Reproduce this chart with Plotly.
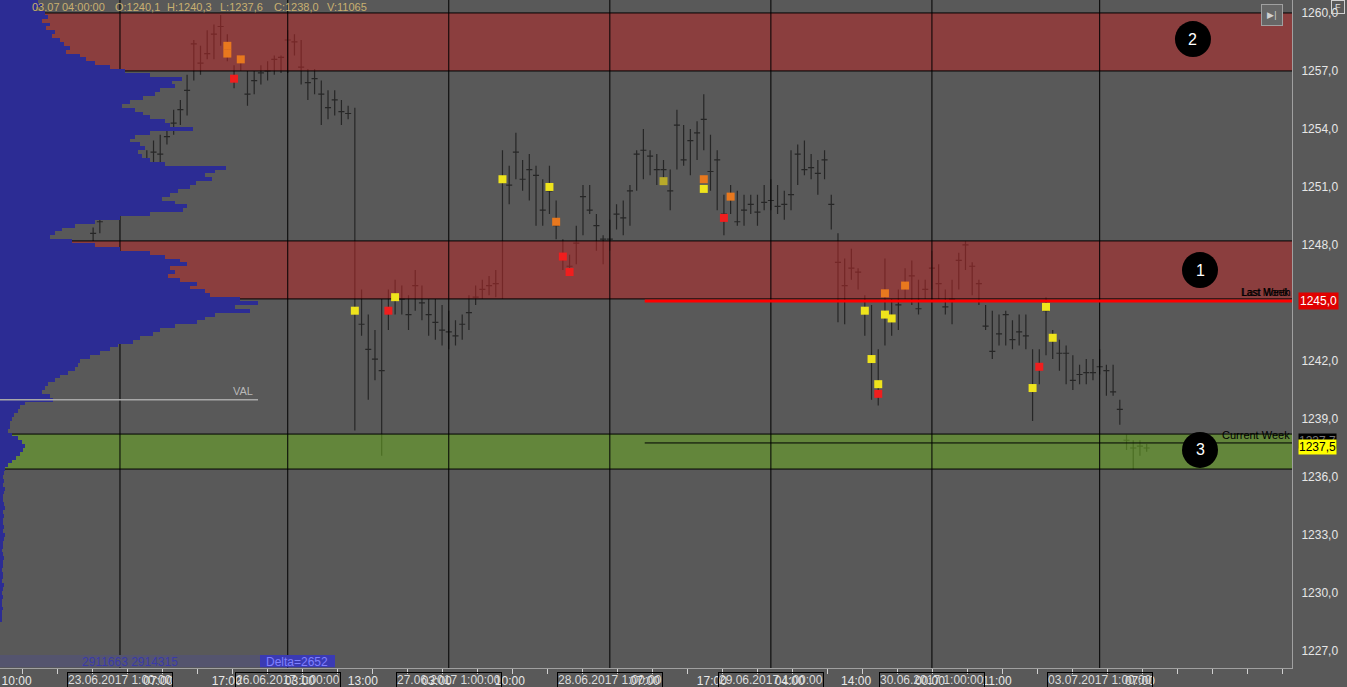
import plotly.graph_objects as go

# ---------------- data ----------------
# hourly bars (index 0 = 23.06.2017 1:00)
bar_idx = list(range(-4, 154))
bar_high = [
    1248.9, 1249.6, 1250.4, 1251.0, 1251.5, 1251.6, 1252.0, 1252.4, 1252.9, 1253.4,
    1253.7, 1254.2, 1255.0, 1255.5, 1256.8, 1258.6, 1258.3, 1259.1, 1259.4, 1259.9,
    1258.9, 1257.3, 1257.8, 1257.0, 1257.0, 1257.3, 1257.5, 1257.8, 1257.8, 1259.1,
    1258.9, 1258.6, 1257.1, 1257.1, 1256.5, 1256.0, 1256.0, 1255.5, 1255.2, 1255.1,
    1245.7, 1244.4, 1243.6, 1245.2, 1245.7, 1246.2, 1245.9, 1245.4, 1246.7, 1245.9,
    1245.2, 1245.2, 1244.9, 1244.6, 1244.1, 1244.4, 1245.4, 1245.9, 1246.2, 1246.4,
    1246.7, 1252.9, 1252.1, 1253.8, 1252.4, 1252.7, 1252.1, 1251.4, 1252.1, 1250.3,
    1248.3, 1247.5, 1249.0, 1251.1, 1251.1, 1249.6, 1248.5, 1249.3, 1250.1, 1250.3,
    1251.1, 1252.9, 1254.0, 1252.9, 1252.7, 1252.4, 1251.9, 1255.0, 1254.2, 1254.0,
    1254.4, 1255.8, 1253.7, 1252.9, 1250.6, 1251.1, 1250.8, 1250.6, 1250.6, 1250.6,
    1251.1, 1251.4, 1251.1, 1250.8, 1252.9, 1253.2, 1253.4, 1252.7, 1252.4, 1252.9,
    1250.6, 1248.6, 1247.3, 1247.8, 1246.8, 1245.4, 1244.9, 1242.6, 1247.3, 1245.2,
    1245.7, 1246.8, 1247.2, 1246.2, 1246.2, 1247.7, 1247.0, 1245.7, 1246.2, 1247.6,
    1248.2, 1247.1, 1246.2, 1244.9, 1244.6, 1244.4, 1244.6, 1244.1, 1244.4, 1244.4,
    1242.6, 1242.6, 1245.3, 1243.6, 1243.1, 1242.8, 1242.3, 1241.8, 1242.1, 1242.1,
    1242.6, 1241.8, 1241.8, 1240.0, 1238.2, 1237.9, 1237.9, 1237.7,
]
bar_low = [
    1248.2, 1248.6, 1249.4, 1250.0, 1250.4, 1250.8, 1251.0, 1251.5, 1251.9, 1251.9,
    1252.1, 1253.2, 1253.7, 1254.2, 1254.7, 1256.5, 1256.8, 1257.6, 1257.6, 1258.3,
    1257.5, 1256.1, 1257.0, 1255.2, 1255.8, 1256.3, 1256.5, 1256.8, 1256.9, 1256.9,
    1257.8, 1256.3, 1255.5, 1255.8, 1254.2, 1254.5, 1254.7, 1254.2, 1254.5, 1238.4,
    1243.3, 1240.0, 1241.0, 1237.1, 1243.6, 1244.4, 1244.4, 1243.6, 1244.6, 1244.1,
    1243.3, 1243.1, 1242.8, 1242.6, 1242.8, 1243.1, 1243.6, 1244.9, 1245.2, 1245.4,
    1245.3, 1245.2, 1250.1, 1251.4, 1250.8, 1250.3, 1249.0, 1249.0, 1249.6, 1248.3,
    1246.7, 1246.4, 1247.0, 1248.5, 1249.6, 1247.7, 1247.0, 1247.7, 1248.8, 1248.5,
    1249.0, 1250.8, 1251.4, 1251.6, 1251.1, 1251.1, 1249.8, 1251.9, 1252.1, 1251.6,
    1252.4, 1252.9, 1250.8, 1249.8, 1248.5, 1249.6, 1249.0, 1249.0, 1249.6, 1249.0,
    1249.8, 1249.8, 1249.6, 1249.3, 1249.8, 1251.1, 1251.6, 1251.4, 1250.6, 1251.4,
    1248.8, 1244.0, 1243.9, 1246.2, 1245.7, 1243.3, 1240.0, 1239.7, 1242.8, 1243.3,
    1243.6, 1245.2, 1244.9, 1244.4, 1245.2, 1245.7, 1245.2, 1244.4, 1243.9, 1245.7,
    1246.7, 1245.4, 1244.9, 1243.6, 1242.1, 1242.8, 1242.8, 1242.6, 1242.8, 1242.6,
    1238.9, 1240.8, 1242.3, 1242.1, 1241.5, 1240.8, 1240.5, 1240.8, 1240.8, 1241.0,
    1241.3, 1240.2, 1240.2, 1238.7, 1237.4, 1236.4, 1237.1, 1237.3,
]
bar_poc = [
    1248.6, 1249.2, 1250.0, 1250.5, 1251.0, 1251.2, 1251.6, 1252.0, 1252.2, 1252.8,
    1252.7, 1253.6, 1254.3, 1255.0, 1256.0, 1258.4, 1257.4, 1257.9, 1258.9, 1259.3,
    1258.2, 1256.7, 1257.5, 1255.8, 1256.5, 1256.9, 1257.0, 1257.6, 1257.7, 1258.6,
    1258.5, 1257.2, 1256.4, 1256.6, 1255.8, 1255.1, 1255.5, 1254.9, 1254.8, 1244.6,
    1243.9, 1242.6, 1242.1, 1241.5, 1244.6, 1245.3, 1245.2, 1244.4, 1245.9, 1245.0,
    1244.4, 1244.0, 1243.6, 1243.5, 1243.3, 1243.9, 1244.5, 1245.3, 1245.7, 1245.9,
    1246.0, 1251.4, 1251.1, 1252.8, 1251.4, 1251.9, 1251.6, 1249.8, 1250.8, 1249.0,
    1247.5, 1246.9, 1248.1, 1250.5, 1249.8, 1249.0, 1248.3, 1248.3, 1249.6, 1249.4,
    1250.8, 1252.7, 1252.9, 1252.6, 1251.9, 1251.9, 1250.8, 1254.2, 1252.4, 1253.4,
    1253.8, 1254.5, 1251.8, 1252.4, 1249.6, 1250.4, 1249.2, 1249.8, 1250.1, 1249.7,
    1250.2, 1250.3, 1250.0, 1250.1, 1250.6, 1252.7, 1251.9, 1252.0, 1251.7, 1252.4,
    1250.1, 1247.1, 1245.9, 1246.8, 1246.6, 1244.7, 1242.1, 1240.4, 1244.4, 1244.2,
    1244.9, 1245.9, 1246.4, 1244.7, 1245.7, 1246.8, 1246.0, 1244.8, 1245.2, 1247.2,
    1248.0, 1246.9, 1246.0, 1243.8, 1242.5, 1243.4, 1244.4, 1243.1, 1243.5, 1243.3,
    1240.7, 1241.8, 1244.6, 1243.1, 1242.4, 1242.4, 1241.0, 1241.3, 1241.4, 1241.4,
    1241.7, 1241.5, 1240.4, 1239.5, 1237.9, 1237.5, 1237.6, 1237.5,
]

# imbalance highlights (bar index, price, intensity)
heat_idx = [16, 16, 17, 18, 35, 40, 41, 57, 64, 65, 66, 67, 81, 87, 87, 90, 91,
            111, 112, 113, 113, 114, 114, 115, 117, 136, 137, 138, 139]
heat_price = [1258.3, 1257.9, 1256.6, 1257.6, 1244.6, 1244.6, 1245.3, 1251.4, 1251.0,
              1249.2, 1247.4, 1246.6, 1251.3, 1251.4, 1250.9, 1249.4, 1250.5,
              1244.6, 1242.1, 1240.8, 1240.3, 1245.5, 1244.4, 1244.2, 1245.9,
              1240.6, 1241.7, 1244.8, 1243.2]
heat_level = ["orange", "orange", "red", "orange", "yellow", "red", "yellow", "yellow", "yellow",
              "orange", "red", "red", "olive", "orange", "yellow", "red", "orange",
              "yellow", "yellow", "yellow", "red", "orange", "yellow", "yellow", "orange",
              "yellow", "red", "yellow", "yellow"]
heat_colors = {"yellow": "#efe41c", "olive": "#b8aa2a", "orange": "#e8781e", "red": "#f01e1e"}

# volume profile (levels from 1260.6 downward, 0.2 step)
prof_top = 1260.6
prof_step = 0.2
prof_width = [
    38, 42, 36, 45, 48, 42, 50, 46, 55, 52,
    60, 64, 70, 66, 80, 86, 95, 110, 125, 150,
    182, 172, 175, 160, 155, 143, 130, 122, 135, 143,
    150, 165, 170, 193, 150, 135, 130, 140, 145, 138,
    142, 150, 165, 226, 215, 205, 212, 196, 190, 178,
    170, 162, 175, 187, 183, 150, 120, 95, 75, 62,
    55, 50, 72, 95, 120, 150, 165, 180, 187, 170,
    175, 168, 180, 197, 190, 205, 210, 240, 258, 235,
    250, 215, 205, 197, 175, 160, 153, 140, 133, 118,
    110, 100, 90, 80, 78, 75, 68, 60, 55, 48,
    45, 42, 50, 53, 25, 20, 18, 14, 12, 10,
    10, 8, 12, 18, 22, 25, 23, 20, 16, 12,
    8, 5,
    4, 3, 4, 3, 5, 4, 3, 3, 4, 5, 3, 4, 3, 3, 4, 3, 5, 4, 3, 3,
    2, 3, 4, 3, 3, 2, 3, 3, 2, 4, 3, 2, 3, 2, 2, 3, 2, 2, 2,
]
prof_levels = [round(prof_top - prof_step * k, 1) for k in range(len(prof_width))]

# zones
zone_lo = [1257.0, 1245.21, 1236.41]
zone_hi = [1260.0, 1248.21, 1238.22]
zone_fill = ["rgba(180,40,40,0.55)", "rgba(180,40,40,0.55)", "rgba(108,172,35,0.55)"]

# session starts
day_idx = [0, 25, 49, 73, 97, 121, 146]
day_labels = ["23.06.2017 1:00:00", "26.06.2017 1:00:00", "27.06.2017 1:00:00",
              "28.06.2017 1:00:00", "29.06.2017 1:00:00", "30.06.2017 1:00:00",
              "03.07.2017 1:00:00"]

hour_idx = [-15.4, 5.7, 15.9, 26.8, 36.2, 47.2, 58.1, 78.2, 88.2, 99.8, 109.7, 120.7, 130.7, 152.0]
hour_labels = ["10:00", "07:00", "17:00", "03:00", "13:00", "03:00", "10:00", "07:00",
               "17:00", "04:00", "14:00", "00:00", "11:00", "07:00"]

price_ticks = [1227, 1230, 1233, 1236, 1239, 1242, 1245, 1248, 1251, 1254, 1257, 1260]
price_labels = ["1227,0", "1230,0", "1233,0", "1236,0", "1239,0", "1242,0",
                "1245,0", "1248,0", "1251,0", "1254,0", "1257,0", "1260,0"]

last_month_level = 1245.1
current_week_level = 1237.76
val_level = 1240.0
level_line_start = 78.2

header_items = ["03.07", "04:00:00", "O:1240,1", "H:1240,3", "L:1237,6", "C:1238,0", "V:11065"]
header_px = [30, 60, 113, 165, 218, 272, 325]

circle_idx = [160.95, 159.9, 160.95]
circle_price = [1246.7, 1258.65, 1237.4]
circle_text = ["1", "2", "3"]

# ---------------- figure ----------------
BG = "#595959"
XR = [-17.88, 174.66]
YR = [1226.12, 1260.67]
PLOT_W = 1292
PLOT_H = 668
FONT = "Liberation Sans, Arial, sans-serif"

fig = go.Figure()

fig.add_trace(go.Ohlc(
    x=bar_idx, open=bar_poc, high=bar_high, low=bar_low, close=bar_poc,
    increasing=dict(line=dict(color="#262626", width=1.2)),
    decreasing=dict(line=dict(color="#262626", width=1.2)),
    tickwidth=0.45, hoverinfo="skip", showlegend=False))

for lo, hi, col in zip(zone_lo, zone_hi, zone_fill):
    fig.add_trace(go.Scatter(
        x=[-40, 200, 200, -40, -40], y=[lo, lo, hi, hi, lo],
        fill="toself", fillcolor=col, mode="lines",
        line=dict(color="black", width=1), hoverinfo="skip", showlegend=False))

gx, gy = [], []
for d in day_idx:
    gx += [d, d, None]
    gy += [1200, 1300, None]
fig.add_trace(go.Scatter(x=gx, y=gy, mode="lines", line=dict(color="black", width=1),
                         hoverinfo="skip", showlegend=False))

fig.add_trace(go.Scatter(
    x=heat_idx, y=heat_price, mode="markers",
    marker=dict(symbol="square", size=8, color=[heat_colors[h] for h in heat_level],
                line=dict(width=0)),
    hoverinfo="skip", showlegend=False))

fig.add_trace(go.Bar(
    y=prof_levels, x=prof_width, orientation="h", xaxis="x2", yaxis="y",
    width=prof_step, marker=dict(color="#2c2c94", line=dict(width=0)),
    hoverinfo="skip", showlegend=False))

shapes = [
    dict(type="line", xref="x", yref="y", x0=level_line_start, x1=XR[1],
         y0=last_month_level, y1=last_month_level, line=dict(color="#ff0000", width=3)),
    dict(type="line", xref="x", yref="y", x0=level_line_start, x1=XR[1],
         y0=current_week_level, y1=current_week_level, line=dict(color="black", width=1)),
    dict(type="line", xref="paper", yref="y", x0=0, x1=258 / PLOT_W,
         y0=val_level, y1=val_level, line=dict(color="#a8a8a8", width=1.5)),
    dict(type="rect", xref="paper", yref="paper", x0=0, x1=335 / PLOT_W,
         y0=0.001, y1=13 / PLOT_H, fillcolor="#54546e", line=dict(width=0)),
    dict(type="rect", xref="paper", yref="paper", x0=260 / PLOT_W, x1=335 / PLOT_W,
         y0=0.001, y1=13 / PLOT_H, fillcolor="#3a3ab4", line=dict(width=0)),
]
for cx, cy in zip(circle_idx, circle_price):
    shapes.append(dict(type="circle", xref="x", yref="y", xsizemode="pixel",
                       ysizemode="pixel", xanchor=cx, yanchor=cy, x0=-18, x1=18,
                       y0=-18, y1=18, fillcolor="black", line=dict(width=0)))

ann = []
for cx, cy, t in zip(circle_idx, circle_price, circle_text):
    ann.append(dict(x=cx, y=cy, xref="x", yref="y", text=t, showarrow=False,
                    font=dict(color="white", size=16, family=FONT)))
for t, px in zip(header_items, header_px):
    ann.append(dict(x=px / PLOT_W, y=1, xref="paper", yref="paper", text=t,
                    showarrow=False, xanchor="left", yanchor="top", yshift=1,
                    font=dict(color="#c8b070", size=11, family=FONT)))
for d, lab in zip(day_idx, day_labels):
    ann.append(dict(x=d, y=0, xref="x", yref="paper", text=lab, showarrow=False,
                    xanchor="center", yanchor="top", yshift=-4,
                    bordercolor="black", borderwidth=1, borderpad=0,
                    font=dict(color="#dcdcdc", size=12, family=FONT)))
ann += [
    dict(x=XR[1], y=last_month_level, xref="x", yref="y", text="Last Month",
         showarrow=False, xanchor="right", yanchor="bottom", yshift=1,
         font=dict(color="black", size=10, family=FONT)),
    dict(x=XR[1], y=last_month_level, xref="x", yref="y", text="Last Week",
         showarrow=False, xanchor="right", yanchor="bottom", yshift=1,
         font=dict(color="black", size=10, family=FONT)),
    dict(x=XR[1], y=current_week_level, xref="x", yref="y", text="Current Week",
         showarrow=False, xanchor="right", yanchor="bottom", yshift=0,
         font=dict(color="black", size=11, family=FONT)),
    dict(x=243 / PLOT_W, y=val_level, xref="paper", yref="y", text="VAL",
         showarrow=False, xanchor="center", yanchor="bottom", yshift=1,
         font=dict(color="#b8b8b8", size=11, family=FONT)),
    dict(x=130 / PLOT_W, y=6.5 / PLOT_H, xref="paper", yref="paper", text="2911663 2914315",
         showarrow=False, xanchor="center", yanchor="middle",
         font=dict(color="#3a3aa8", size=12, family=FONT)),
    dict(x=297 / PLOT_W, y=6.5 / PLOT_H, xref="paper", yref="paper", text="Delta=2652",
         showarrow=False, xanchor="center", yanchor="middle",
         font=dict(color="#8080ff", size=12, family=FONT)),
    dict(x=1, y=last_month_level, xref="paper", yref="y", text="1245,0",
         showarrow=False, xanchor="left", yanchor="middle", xshift=6,
         bgcolor="#e00000", borderpad=1,
         font=dict(color="white", size=12, family=FONT)),
    dict(x=1, y=1237.85, xref="paper", yref="y", text="1237,7",
         showarrow=False, xanchor="left", yanchor="middle", xshift=6,
         bgcolor="black", borderpad=0,
         font=dict(color="#777777", size=12, family=FONT)),
    dict(x=1, y=1237.55, xref="paper", yref="y", text="1237,5",
         showarrow=False, xanchor="left", yanchor="middle", xshift=6,
         bgcolor="#ffff00", borderpad=0,
         font=dict(color="black", size=12, family=FONT)),
    dict(x=1272 / PLOT_W, y=1 - 15 / PLOT_H, xref="paper", yref="paper", text="▶|",
         showarrow=False, xanchor="center", yanchor="middle", width=18, height=18,
         bordercolor="#a0a0a0", borderwidth=1, bgcolor="#666666",
         font=dict(color="#d0d0d0", size=9, family=FONT)),
    dict(x=1338 / PLOT_W, y=1 - 7 / PLOT_H, xref="paper", yref="paper", text="F",
         showarrow=False, xanchor="center", yanchor="middle", width=10, height=10,
         bordercolor="#d0d0d0", borderwidth=1,
         font=dict(color="#e0e0e0", size=9, family=FONT)),
]

fig.update_layout(
    width=1347, height=687, template="none",
    margin=dict(l=0, r=55, t=0, b=19),
    paper_bgcolor=BG, plot_bgcolor=BG, showlegend=False, bargap=0,
    font=dict(family=FONT, size=12, color="#e6e6e6"),
    xaxis=dict(range=XR, rangeslider=dict(visible=False), showgrid=False, zeroline=False,
               showline=True, linecolor="#a0a0a0", linewidth=1, automargin=False,
               tickmode="array", tickvals=hour_idx, ticktext=hour_labels, ticks="",
               ticklabelstandoff=2,
               tickfont=dict(size=12, color="#e8e8e8", family=FONT),
               minor=dict(ticks="outside", ticklen=5, tickcolor="#d0d0d0",
                          tick0=-14.46, dtick=5.216, showgrid=False)),
    xaxis2=dict(overlaying="x", range=[0, PLOT_W], visible=False, anchor="y"),
    yaxis=dict(range=YR, side="right", showgrid=False, zeroline=False, showline=True,
               linecolor="#a0a0a0", linewidth=1, automargin=False,
               tickmode="array", tickvals=price_ticks, ticktext=price_labels, ticks="",
               ticklabelstandoff=6,
               tickfont=dict(size=12, color="#e6e6e6", family=FONT)),
    shapes=shapes, annotations=ann,
)

fig.write_html(
    "out.html",
    config={"displayModeBar": False},
    post_script="document.body.style.margin='0px';document.body.style.background='#595959';",
)
